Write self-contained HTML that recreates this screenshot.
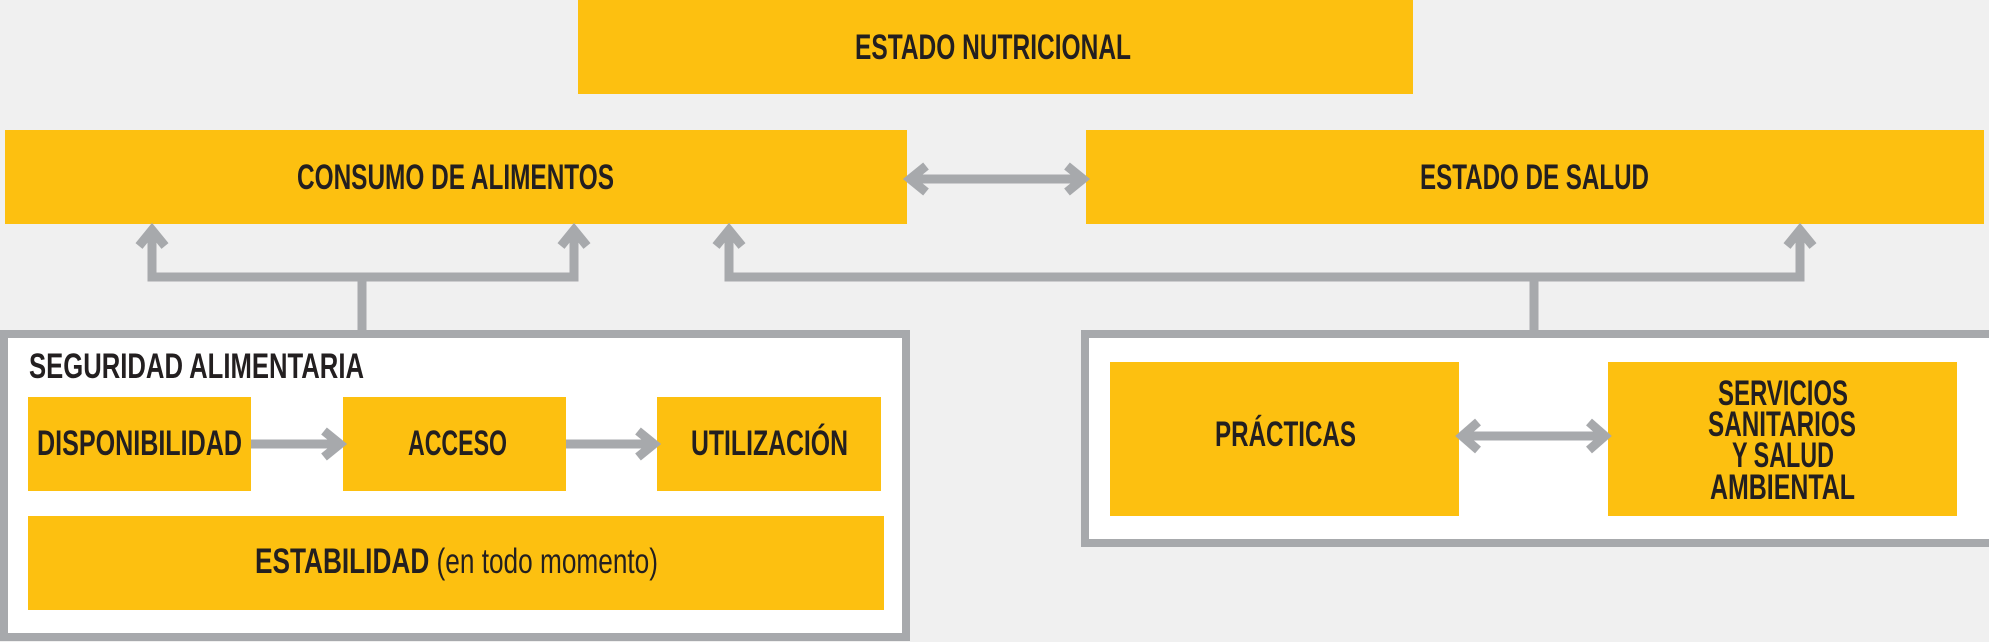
<!DOCTYPE html>
<html><head><meta charset="utf-8"><style>
html,body{margin:0;padding:0;background:#f0f0f0;}
svg{display:block;}
text{font-family:"Liberation Sans",sans-serif;font-weight:bold;fill:#231f20;}
</style></head><body>
<svg width="1989" height="642" viewBox="0 0 1989 642" xmlns="http://www.w3.org/2000/svg">
<rect width="1989" height="642" fill="#f0f0f0"/>
<g fill="#fdc010">
<rect x="578" y="0" width="835" height="94"/>
<rect x="5" y="130" width="902" height="94"/>
<rect x="1086" y="130" width="898" height="94"/>
</g>
<rect x="4" y="334" width="902" height="303" fill="#fff" stroke="#a7a9ac" stroke-width="8"/>
<rect x="1085" y="334" width="908" height="209" fill="#fff" stroke="#a7a9ac" stroke-width="8"/>
<g fill="#fdc010">
<rect x="28" y="397" width="223" height="94"/>
<rect x="343" y="397" width="223" height="94"/>
<rect x="657" y="397" width="224" height="94"/>
<rect x="28" y="516" width="856" height="94"/>
<rect x="1110" y="362" width="349" height="154"/>
<rect x="1608" y="362" width="349" height="154"/>
</g>
<g fill="none" stroke="#a7a9ac" stroke-width="9">
<polyline points="152,232 152,277 574,277 574,232"/>
<line x1="362" y1="277" x2="362" y2="330"/>
<polyline points="729,232 729,277 1800,277 1800,232"/>
<line x1="1534" y1="277" x2="1534" y2="330"/>
<line x1="912" y1="179" x2="1081" y2="179"/>
<line x1="251" y1="444" x2="337" y2="444"/>
<line x1="566" y1="444" x2="651" y2="444"/>
<line x1="1464" y1="436" x2="1603" y2="436"/>
</g>
<g fill="none" stroke="#a7a9ac" stroke-width="9" stroke-linejoin="miter">
<polyline points="139,246 152,230 165,246"/>
<polyline points="561,246 574,230 587,246"/>
<polyline points="716,246 729,230 742,246"/>
<polyline points="1787,246 1800,230 1813,246"/>
<polyline points="926,166 910,179 926,192"/>
<polyline points="1067,166 1083,179 1067,192"/>
<polyline points="324,431 340,444 324,457"/>
<polyline points="638,431 654,444 638,457"/>
<polyline points="1478,422 1462,436 1478,450"/>
<polyline points="1589,422 1605,436 1589,450"/>
</g>
<g font-size="35">
<text x="855" y="59" textLength="276" lengthAdjust="spacingAndGlyphs">ESTADO NUTRICIONAL</text>
<text x="297" y="189" textLength="317" lengthAdjust="spacingAndGlyphs">CONSUMO DE ALIMENTOS</text>
<text x="1420" y="189" textLength="229" lengthAdjust="spacingAndGlyphs">ESTADO DE SALUD</text>
<text x="29" y="378" textLength="335" lengthAdjust="spacingAndGlyphs">SEGURIDAD ALIMENTARIA</text>
<text x="37" y="455" textLength="205" lengthAdjust="spacingAndGlyphs">DISPONIBILIDAD</text>
<text x="408" y="455" textLength="99" lengthAdjust="spacingAndGlyphs">ACCESO</text>
<text x="691" y="455" textLength="157" lengthAdjust="spacingAndGlyphs">UTILIZACIÓN</text>
<text x="255" y="573" textLength="403" lengthAdjust="spacingAndGlyphs">ESTABILIDAD <tspan font-weight="normal">(en todo momento)</tspan></text>
<text x="1215" y="446" textLength="141" lengthAdjust="spacingAndGlyphs">PRÁCTICAS</text>
<text x="1718" y="405" textLength="130" lengthAdjust="spacingAndGlyphs">SERVICIOS</text>
<text x="1708" y="436" textLength="148" lengthAdjust="spacingAndGlyphs">SANITARIOS</text>
<text x="1732" y="467" textLength="102" lengthAdjust="spacingAndGlyphs">Y SALUD</text>
<text x="1710" y="499" textLength="145" lengthAdjust="spacingAndGlyphs">AMBIENTAL</text>
</g>
</svg>
</body></html>
